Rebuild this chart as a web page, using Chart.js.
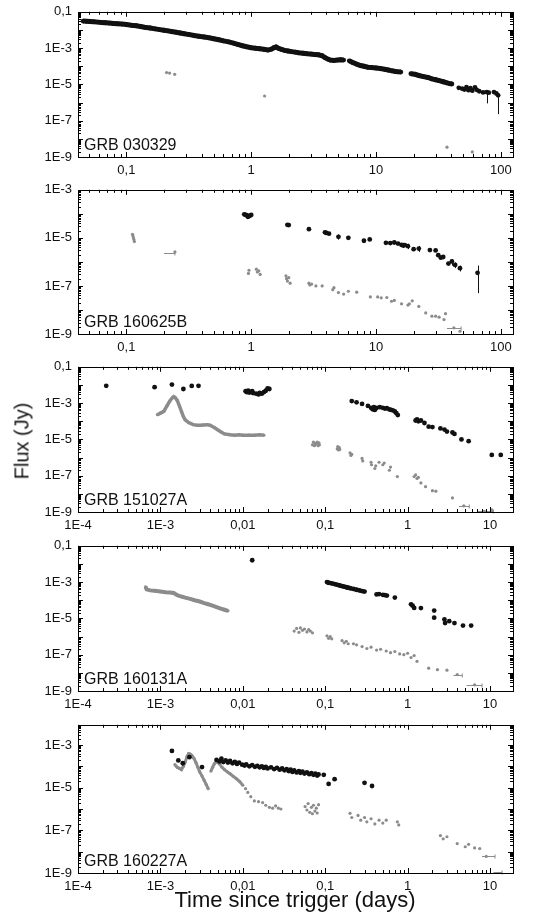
<!DOCTYPE html>
<html><head><meta charset="utf-8">
<script src="https://cdn.jsdelivr.net/npm/chart.js@4.4.0/dist/chart.umd.min.js"></script>
<style>
html,body{margin:0;padding:0;background:#fff;}
body{width:539px;height:921px;position:relative;overflow:hidden;font-family:"Liberation Sans",Arial,sans-serif;color:#111;}
canvas{position:absolute;left:0;}
#ytitle{position:absolute;left:22px;top:441px;transform:translate(-50%,-50%) rotate(-90deg);font-size:20px;white-space:nowrap;}
#xtitle{position:absolute;left:295px;top:900px;transform:translate(-50%,-50%);font-size:22px;white-space:nowrap;}
</style></head><body>
<canvas id="c1"></canvas><canvas id="c2"></canvas><canvas id="c3"></canvas><canvas id="c4"></canvas><canvas id="c5"></canvas>
<div id="ytitle">Flux (Jy)</div>
<div id="xtitle">Time since trigger (days)</div>
<script>
// ---------- tick labels ----------
const xTicksA = [0.1, 1, 10, 100];
const xLabelsA = ['0,1', '1', '10', '100'];
const xTicksB = [1e-4, 1e-3, 0.01, 0.1, 1, 10];
const xLabelsB = ['1E-4', '1E-3', '0,01', '0,1', '1', '10'];
const yTicksA = [0.1, 1e-3, 1e-5, 1e-7, 1e-9];
const yLabelsA = ['0,1', '1E-3', '1E-5', '1E-7', '1E-9'];
const yTicksB = [1e-3, 1e-5, 1e-7, 1e-9];
const yLabelsB = ['1E-3', '1E-5', '1E-7', '1E-9'];
const grbNames = ['GRB 030329', 'GRB 160625B', 'GRB 151027A', 'GRB 160131A', 'GRB 160227A'];

// ---------- GRB 030329 ----------
const p1BlackLine = [[0.045,0.031],[0.048,0.030],[0.051,0.029],[0.055,0.028],[0.059,0.027],[0.063,0.026],[0.068,0.025],[0.073,0.024],[0.079,0.023],[0.085,0.022],[0.092,0.021],[0.10,0.020],[0.11,0.018],[0.12,0.017],[0.13,0.0155],[0.14,0.014],[0.155,0.0128],[0.17,0.0115],[0.185,0.0104],[0.20,0.0096],[0.215,0.0089],[0.23,0.0082],[0.25,0.0075],[0.27,0.0068],[0.29,0.0062],[0.32,0.0055],[0.35,0.0049],[0.38,0.0045],[0.42,0.0041],[0.46,0.0037],[0.50,0.0033],[0.55,0.0029],[0.60,0.0025],[0.66,0.0022],[0.72,0.0019],[0.78,0.0016],[0.85,0.00135],[0.92,0.00118],[1.0,0.00105],[1.08,0.00098],[1.17,0.00092],[1.26,0.00086],[1.36,0.00078],[1.45,0.00088],[1.52,0.00105],[1.58,0.00115],[1.65,0.00098],[1.75,0.00085],[1.85,0.00075],[1.97,0.00069],[2.1,0.00064],[2.25,0.0006],[2.4,0.00055],[2.6,0.00052],[2.8,0.00049],[3.0,0.00047],[3.2,0.00045],[3.45,0.00043],[3.7,0.00038],[3.9,0.0003],[4.1,0.00025],[4.3,0.00022],[4.6,0.00021],[4.9,0.00022],[5.2,0.00023],[5.5,0.00022],[5.8,null],[6.1,0.0002],[6.5,0.00016],[7.0,0.00013],[7.5,0.00011],[8.0,0.0001],[8.6,0.000088],[9.2,0.000085],[10,0.00008],[10.8,0.000075],[11.7,0.000068],[12.5,0.000062],[13.4,0.000056],[14.3,0.000052],[15.8,0.000048],[17,null],[19,0.000039],[20.5,0.000036],[22,0.000031],[24,0.000027],[26,0.000024],[28,0.00002],[30,0.000018],[32,0.000016],[34.5,0.000014],[37,0.000012],[39,0.000011],[40.5,0.0000105]];
const p1BlackPts = [[46,0.0000065],[49,0.0000058],[51,0.0000052],[53,0.000007],[55,0.0000048],[57,0.0000062],[59,0.0000045],[62,0.0000068],[64,0.000005],[67,0.0000042],[72,0.0000036],[77,0.0000038],[80,0.0000035],[88,0.0000038],[92,0.0000032],[95,0.0000025]];
const p1BlackErr = [[77,0.0000038,0.0000009],[95,0.0000032,0.00000023]];
const p1Grey = [[0.21,0.000045],[0.222,0.000042],[0.244,0.000036],[1.28,0.0000023],[37,3.5e-9],[59,1.9e-9]];

// ---------- GRB 160625B ----------
const p2Black = [[0.88,0.000095],[0.9,0.00009],[0.92,0.000088],[0.94,0.000075],[0.96,0.00008],[0.98,0.000085],[1.0,0.00009],[1.95,0.000035],[2.0,0.000034],[2.9,0.000023],[3.9,0.000017],[4.0,0.000016],[4.2,0.000015],[5.0,0.000011],[6.0,0.00001],[8.0,0.0000076],[8.9,0.0000086],[12,0.0000062],[13,0.0000061],[14,0.0000064],[15,0.0000058],[16,0.0000051],[16.5,0.0000048],[17,0.000005],[18,0.0000045],[20,0.0000034],[22,0.0000036],[27,0.0000031],[30,0.000003],[31.5,0.0000019],[33,0.0000015],[34.5,0.0000016],[38,0.00000085],[40.5,0.00000105],[43,0.00000075],[47,0.00000055],[65,0.00000035]];
const p2BlackErr = [[5.0,0.000014,0.0000085],[16.5,0.0000062,0.0000038],[18,0.0000057,0.0000034],[22,0.0000046,0.0000026],[40.5,0.0000013,0.0000007],[43,0.00000095,0.00000055],[47,0.0000007,0.0000004],[65,0.0000007,0.00000005]];
const p2Grey = [[0.112,0.000014],[0.113,0.000012],[0.114,0.00001],[0.115,0.0000085],[0.116,0.000007],[0.245,0.0000026],[0.95,0.00000033],[0.96,0.00000045],[1.1,0.0000005],[1.12,0.00000038],[1.15,0.00000042],[1.18,0.0000003],[1.9,0.00000026],[1.92,0.0000002],[1.95,0.00000016],[2.0,0.00000022],[2.05,0.00000013],[2.9,0.00000013],[2.95,0.00000011],[3.05,0.00000012],[3.3,0.0000001],[3.7,0.0000001],[4.5,0.00000007],[4.6,0.000000085],[5.0,0.000000053],[5.5,0.000000046],[6.0,0.00000006],[7.0,0.000000055],[9.0,0.000000035],[10.3,0.000000035],[11,0.000000032],[12.2,0.000000033],[13.3,0.000000023],[14,0.000000025],[16,0.000000018],[18,0.000000016],[18.5,0.000000018],[19.5,0.000000024],[22,0.000000014],[25,7.5e-9],[28,5.5e-9],[30,5.5e-9],[32,5e-9],[35,4e-9],[36,7e-9],[42,1.8e-9],[47,1.3e-9]];
const p2GreyHBar = [[0.2,0.245,0.0000023],[37,48,1.8e-9]];

// ---------- GRB 151027A ----------
const p3Black = [[2.2e-4,0.0089],[8.5e-4,0.0075],[1.38e-3,0.0105],[1.9e-3,0.006],[2.4e-3,0.0088],[2.9e-3,0.0089],[0.0108,0.0045],[0.0112,0.004],[0.0116,0.0048],[0.012,0.0038],[0.0125,0.0042],[0.013,0.0046],[0.0133,0.0036],[0.0145,0.0033],[0.0155,0.003],[0.016,0.0036],[0.017,0.0033],[0.018,0.004],[0.019,0.0048],[0.02,0.0065],[0.021,0.006],[0.21,0.0013],[0.24,0.0011],[0.28,0.0009],[0.33,0.0007],[0.36,0.00055],[0.37,0.0005],[0.38,0.00045],[0.39,0.0006],[0.4,0.00042],[0.41,0.0005],[0.42,0.00055],[0.46,0.0006],[0.5,0.00055],[0.53,0.0005],[0.56,0.00052],[0.6,0.00045],[0.63,0.00042],[0.66,0.0004],[0.7,0.00035],[0.73,0.00028],[0.76,0.00022],[1.25,0.00011],[1.3,0.000125],[1.35,0.0001],[1.45,0.00011],[1.6,0.00008],[1.8,0.00005],[2.0,0.000048],[2.5,0.00004],[2.8,0.000035],[3.0,0.000027],[3.5,0.000024],[3.7,0.00002],[4.5,0.00001],[5.5,0.000008],[10.5,0.0000014],[13.5,0.0000014]];
const p3GreyLine = [[9.2e-4,2.3e-4],[1.0e-3,2.8e-4],[1.1e-3,3.5e-4],[1.2e-3,7e-4],[1.3e-3,1.3e-3],[1.4e-3,2.0e-3],[1.45e-3,2.3e-3],[1.5e-3,2.1e-3],[1.6e-3,1.4e-3],[1.7e-3,7e-4],[1.8e-3,3.5e-4],[1.9e-3,1.8e-4],[2.0e-3,1.2e-4],[2.2e-3,8.5e-5],[2.5e-3,6.5e-5],[2.8e-3,6e-5],[3.0e-3,6e-5],[3.3e-3,6.2e-5],[3.7e-3,6.5e-5],[4.0e-3,6e-5],[4.5e-3,4.5e-5],[5.0e-3,3.3e-5],[5.5e-3,2.5e-5],[6.0e-3,2e-5],[7.0e-3,1.8e-5],[8.0e-3,1.7e-5],[9.0e-3,1.8e-5],[1.0e-2,1.7e-5],[1.2e-2,1.7e-5],[1.4e-2,1.7e-5],[1.6e-2,1.8e-5],[1.8e-2,1.7e-5]];
const p3Grey = [[0.07,5e-6],[0.072,7e-6],[0.074,4.5e-6],[0.076,6e-6],[0.078,5.5e-6],[0.08,7e-6],[0.082,4.5e-6],[0.084,6.5e-6],[0.085,5e-6],[0.14,3e-6],[0.142,4e-6],[0.145,2.6e-6],[0.148,3.5e-6],[0.15,2.8e-6],[0.2,1.8e-6],[0.205,1.3e-6],[0.21,1.5e-6],[0.28,9e-7],[0.285,6.5e-7],[0.36,5.5e-7],[0.365,4e-7],[0.4,2.5e-7],[0.41,3.5e-7],[0.45,5.5e-7],[0.5,4e-7],[0.52,5e-7],[0.6,2e-7],[0.62,3e-7],[0.75,9e-8],[1.2,9e-8],[1.25,1.1e-7],[1.3,7e-8],[1.35,8e-8],[1.45,4e-8],[1.65,2.5e-8],[2.0,1.5e-8],[2.2,1.4e-8],[3.5,6e-9],[4.8,2.2e-9],[8.5,1.1e-9],[10.5,1.3e-9]];
const p3GreyHBar = [[4.2,5.6,2.2e-9],[7,11,1.1e-9]];

// ---------- GRB 160131A ----------
const p4Black = [[0.013,0.016],[0.42,0.00021],[0.45,0.00022],[0.5,0.0002],[0.53,0.00019],[0.56,0.00018],[0.7,0.00014],[1.1,0.00006],[1.15,0.00005],[1.2,0.000038],[1.45,0.000037],[2.1,0.000027],[2.1,0.000011],[2.8,0.0000088],[2.85,0.0000055],[3.2,0.000007],[3.7,0.0000055],[4.7,0.000004],[5.9,0.000004]];
const p4BlackLine = [[0.105,0.001],[0.11,0.00092],[0.12,0.00085],[0.13,0.00078],[0.14,0.00071],[0.15,0.00065],[0.16,0.0006],[0.17,0.00056],[0.18,0.00052],[0.19,0.00049],[0.2,0.00046],[0.22,0.00042],[0.24,0.00038],[0.26,0.00035],[0.28,0.00032],[0.3,0.0003]];
const p4GreyLine = [[6.6e-4,5.5e-4],[6.8e-4,4e-4],[7.5e-4,3.5e-4],[8.5e-4,3.3e-4],[1e-3,3e-4],[1.15e-3,2.8e-4],[1.3e-3,2.7e-4],[1.45e-3,2.5e-4],[1.6e-3,1.9e-4],[1.8e-3,1.6e-4],[2.0e-3,1.4e-4],[2.3e-3,1.2e-4],[2.6e-3,1.0e-4],[3.0e-3,8.5e-5],[3.4e-3,7e-5],[3.8e-3,6e-5],[4.3e-3,5e-5],[4.8e-3,4.2e-5],[5.4e-3,3.5e-5],[6.0e-3,3e-5],[6.6e-3,2.6e-5]];
const p4Grey = [[0.042,2e-6],[0.045,2.8e-6],[0.048,1.7e-6],[0.05,3e-6],[0.053,2.2e-6],[0.056,2.6e-6],[0.06,1.8e-6],[0.063,2.4e-6],[0.066,2e-6],[0.07,1.6e-6],[0.105,1.1e-6],[0.11,8e-7],[0.115,1e-6],[0.12,7.5e-7],[0.16,6e-7],[0.17,4.5e-7],[0.18,5.5e-7],[0.19,4e-7],[0.22,4e-7],[0.24,3.5e-7],[0.28,2.8e-7],[0.32,2.2e-7],[0.36,2.6e-7],[0.42,1.8e-7],[0.47,2e-7],[0.55,1.6e-7],[0.62,1.3e-7],[0.7,1.5e-7],[0.8,1.1e-7],[0.9,1e-7],[1.0,1.2e-7],[1.1,7e-8],[1.2,9e-8],[1.3,4.3e-8],[1.8,1.8e-8],[2.3,1.5e-8],[3.0,1.4e-8],[4.0,8e-9],[6.5,2.2e-9]];
const p4GreyHBar = [[3.6,4.6,8e-9],[5.2,8,2.2e-9]];

// ---------- GRB 160227A ----------
const p5Black = [[1.38e-3,5.3e-4],[1.65e-3,1.9e-4],[1.87e-3,1.4e-4],[2.25e-3,2.7e-4],[3.2e-3,9.3e-5],[0.096,0.00004],[0.11,0.000015],[0.13,0.000025],[0.3,0.000017],[0.37,0.000012]];
const p5BlackDense = [[4.8e-3,2e-4],[5.2e-3,1.7e-4],[5.5e-3,2.3e-4],[5.8e-3,1.6e-4],[6.2e-3,1.9e-4],[6.6e-3,1.5e-4],[7.0e-3,1.8e-4],[7.5e-3,1.4e-4],[8.0e-3,1.6e-4],[8.5e-3,1.3e-4],[9.0e-3,1.5e-4],[9.8e-3,1.2e-4],[0.0105,1.1e-4],[0.011,1.25e-4],[0.012,1.0e-4],[0.013,1.15e-4],[0.014,9.5e-5],[0.015,1.05e-4],[0.016,9e-5],[0.017,1e-4],[0.018,8.5e-5],[0.019,9.5e-5],[0.02,8e-5],[0.022,9e-5],[0.024,7.5e-5],[0.026,8.5e-5],[0.028,7e-5],[0.03,8e-5],[0.032,6.5e-5],[0.034,7.5e-5],[0.036,6e-5],[0.038,7e-5],[0.04,5.5e-5],[0.042,6.5e-5],[0.045,5.2e-5],[0.048,6e-5],[0.05,5e-5],[0.053,5.6e-5],[0.056,4.6e-5],[0.06,5.2e-5],[0.064,4.3e-5],[0.068,4.8e-5],[0.072,4e-5],[0.076,4.5e-5],[0.08,3.7e-5],[0.083,4.2e-5]];
const p5GreyLine = [[1.5e-3,1.2e-4],[1.6e-3,9e-5],[1.7e-3,8e-5],[1.8e-3,7e-5],[1.9e-3,1e-4],[2.0e-3,1.6e-4],[2.1e-3,2.8e-4],[2.2e-3,4e-4],[2.3e-3,3.8e-4],[2.4e-3,3.3e-4],[2.55e-3,2.4e-4],[2.7e-3,1.5e-4],[2.85e-3,9e-5],[3.0e-3,5.5e-5],[3.2e-3,3.5e-5],[3.4e-3,2.2e-5],[3.6e-3,1.4e-5],[3.8e-3,9e-6],[3.95e-3,null],[4.1e-3,6e-5],[4.3e-3,9e-5],[4.5e-3,1.3e-4],[4.8e-3,1.7e-4],[5.2e-3,1.3e-4],[5.6e-3,9e-5],[6.0e-3,7e-5],[6.5e-3,5.5e-5],[7.0e-3,4.5e-5],[7.6e-3,3.5e-5],[8.3e-3,2.7e-5],[9.1e-3,2e-5],[0.01,1.3e-5]];
const p5Grey = [[0.0108,9e-6],[0.0115,6e-6],[0.0125,3.8e-6],[0.0138,2.4e-6],[0.0155,2.2e-6],[0.0174,2e-6],[0.019,1.5e-6],[0.021,1.2e-6],[0.023,1.1e-6],[0.025,1.4e-6],[0.027,1.1e-6],[0.029,1e-6],[0.057,1.3e-6],[0.06,9e-7],[0.062,1.8e-6],[0.065,7e-7],[0.068,1.2e-6],[0.07,6e-7],[0.072,1.5e-6],[0.075,8e-7],[0.078,1.1e-6],[0.08,6.5e-7],[0.083,1.6e-6],[0.2,6.3e-7],[0.21,4e-7],[0.25,5e-7],[0.27,3e-7],[0.3,4e-7],[0.32,2.5e-7],[0.36,3.5e-7],[0.4,2e-7],[0.45,3e-7],[0.5,2.2e-7],[0.55,3e-7],[0.75,2.5e-7],[0.78,1.8e-7],[2.5,5.7e-8],[2.7,4e-8],[3.0,5e-8],[4.0,2.4e-8],[5.0,1.7e-8],[5.5,2.2e-8],[6.5,1.5e-8],[7.5,1.4e-8],[9.0,6e-9]];
const p5GreyHBar = [[8,11.5,6e-9],[11,14,1.1e-9]];

// ---------- helpers ----------
const FONT = '"Liberation Sans", Arial, sans-serif';
Chart.defaults.font.family = FONT;
Chart.defaults.color = '#111';
const BLACK = '#111111', GREY = '#8c8c8c';
const toPts = arr => arr.map(p => ({x: p[0], y: p[1]}));

const framePlugin = {
  id: 'frame',
  afterDraw(c) {
    const {ctx, chartArea: a, scales: {x, y}} = c;
    ctx.save();
    ctx.strokeStyle = '#000'; ctx.lineWidth = 1;
    ctx.strokeRect(Math.round(a.left) + 0.5, Math.round(a.top) + 0.5, Math.round(a.right - a.left), Math.round(a.bottom - a.top));
    ctx.beginPath();
    const logTicks = (s, fn) => {
      const lo = Math.floor(Math.log10(s.min)), hi = Math.ceil(Math.log10(s.max));
      for (let d = lo; d <= hi; d++) for (let m = 1; m <= 9; m++) {
        const v = m * Math.pow(10, d);
        if (v < s.min * 0.999 || v > s.max * 1.001) continue;
        fn(Math.round(s.getPixelForValue(v)) + 0.5, m === 1);
      }
    };
    logTicks(x, (px, major) => {
      const L = major ? 5 : 3;
      ctx.moveTo(px, a.bottom); ctx.lineTo(px, a.bottom - L);
      ctx.moveTo(px, a.top); ctx.lineTo(px, a.top + L);
    });
    logTicks(y, (py, major) => {
      const L = major ? 5 : 3;
      ctx.moveTo(a.left, py); ctx.lineTo(a.left + L, py);
      ctx.moveTo(a.right, py); ctx.lineTo(a.right - L, py);
    });
    ctx.stroke();
    ctx.fillStyle = '#111';
    ctx.font = '16px ' + FONT;
    ctx.textBaseline = 'alphabetic';
    ctx.fillText(c.options.plugins.frame.name, a.left + 6, a.bottom - 7);
    ctx.restore();
  }
};

const errPlugin = {
  id: 'errbars',
  afterDatasetsDraw(c) {
    const o = c.options.plugins.errbars || {};
    const {ctx, scales: {x, y}} = c;
    ctx.save();
    ctx.lineWidth = 1;
    (o.v || []).forEach(set => {
      ctx.strokeStyle = set.color;
      ctx.beginPath();
      set.data.forEach(([xv, hi, lo]) => {
        const px = Math.round(x.getPixelForValue(xv)) + 0.5;
        ctx.moveTo(px, y.getPixelForValue(hi)); ctx.lineTo(px, y.getPixelForValue(lo));
      });
      ctx.stroke();
    });
    (o.h || []).forEach(set => {
      ctx.strokeStyle = set.color;
      ctx.beginPath();
      set.data.forEach(([x0, x1, yv]) => {
        const py = Math.round(y.getPixelForValue(yv)) + 0.5;
        ctx.moveTo(x.getPixelForValue(x0), py); ctx.lineTo(x.getPixelForValue(x1), py);
        ctx.moveTo(x.getPixelForValue(x1), py - 2); ctx.lineTo(x.getPixelForValue(x1), py + 2);
      });
      ctx.stroke();
    });
    ctx.restore();
  }
};

const LEFT = 78, RIGHT = 513, PADTOP = 12, XH = 26;

function panel(id, top, bottom, xr, yr, xt, xl, yt, yl, name, datasets, errs) {
  const cv = document.getElementById(id);
  const h = bottom - top;
  cv.width = 539; cv.height = h + PADTOP + XH;
  cv.style.top = (top - PADTOP) + 'px';
  new Chart(cv, {
    type: 'scatter',
    data: {datasets},
    options: {
      responsive: false, animation: false, devicePixelRatio: 1,
      layout: {padding: {top: PADTOP, right: 539 - RIGHT, bottom: 0, left: 0}},
      plugins: {legend: {display: false}, tooltip: {enabled: false}, frame: {name}, errbars: errs || {}},
      scales: {
        x: {
          type: 'logarithmic', min: xr[0], max: xr[1],
          afterBuildTicks: s => { s.ticks = xt.map(v => ({value: v})); },
          afterFit: s => { s.height = XH; },
          ticks: {autoSkip: false, maxRotation: 0, padding: 6, color: '#111', font: {size: 13},
                  callback: (v, i) => xl[i]},
          grid: {display: false, drawTicks: false}, border: {display: false}
        },
        y: {
          type: 'logarithmic', min: yr[0], max: yr[1],
          afterBuildTicks: s => { s.ticks = yt.map(v => ({value: v})); },
          afterFit: s => { s.width = LEFT; },
          ticks: {autoSkip: false, padding: 6, color: '#111', font: {size: 13},
                  callback: (v, i) => yl[i]},
          grid: {display: false, drawTicks: false}, border: {display: false}
        }
      }
    },
    plugins: [framePlugin, errPlugin]
  });
}

const blackPts = d => ({data: toPts(d), backgroundColor: BLACK, borderWidth: 0, pointRadius: 2.4, showLine: false});
const blackLine = (d, w) => ({data: toPts(d), backgroundColor: BLACK, borderColor: BLACK, borderWidth: w || 5, pointRadius: 2.4, pointBorderWidth: 0, showLine: true, spanGaps: false});
const greyPts = d => ({data: toPts(d), backgroundColor: GREY, borderWidth: 0, pointRadius: 1.6, showLine: false});
const greyLine = (d, w) => ({data: toPts(d), backgroundColor: GREY, borderColor: GREY, borderWidth: w || 3.5, pointRadius: 1.6, pointBorderWidth: 0, showLine: true, spanGaps: false});

const rangeA = [0.041, 125];
const rangeB = [1e-4, 19];

panel('c1', 10, 157, rangeA, [1e-9, 0.1], xTicksA, xLabelsA, yTicksA, yLabelsA, grbNames[0],
  [blackLine(p1BlackLine), blackPts(p1BlackPts), greyPts(p1Grey)],
  {v: [{color: BLACK, data: p1BlackErr}]});
panel('c2', 188, 334, rangeA, [1e-9, 1e-3], xTicksA, xLabelsA, yTicksB, yLabelsB, grbNames[1],
  [blackPts(p2Black), greyPts(p2Grey)],
  {v: [{color: BLACK, data: p2BlackErr}], h: [{color: GREY, data: p2GreyHBar}]});
panel('c3', 365, 512, rangeB, [1e-9, 0.1], xTicksB, xLabelsB, yTicksA, yLabelsA, grbNames[2],
  [blackPts(p3Black), greyLine(p3GreyLine), greyPts(p3Grey)],
  {h: [{color: GREY, data: p3GreyHBar}]});
panel('c4', 544, 691, rangeB, [1e-9, 0.1], xTicksB, xLabelsB, yTicksA, yLabelsA, grbNames[3],
  [blackPts(p4Black), blackLine(p4BlackLine, 4), greyLine(p4GreyLine, 4), greyPts(p4Grey)],
  {h: [{color: GREY, data: p4GreyHBar}]});
panel('c5', 723, 873, rangeB, [1e-9, 0.0089], xTicksB, xLabelsB, yTicksB, yLabelsB, grbNames[4],
  [blackPts(p5Black), blackPts(p5BlackDense), greyLine(p5GreyLine, 3), greyPts(p5Grey)],
  {h: [{color: GREY, data: p5GreyHBar}]});
</script>
</body></html>
